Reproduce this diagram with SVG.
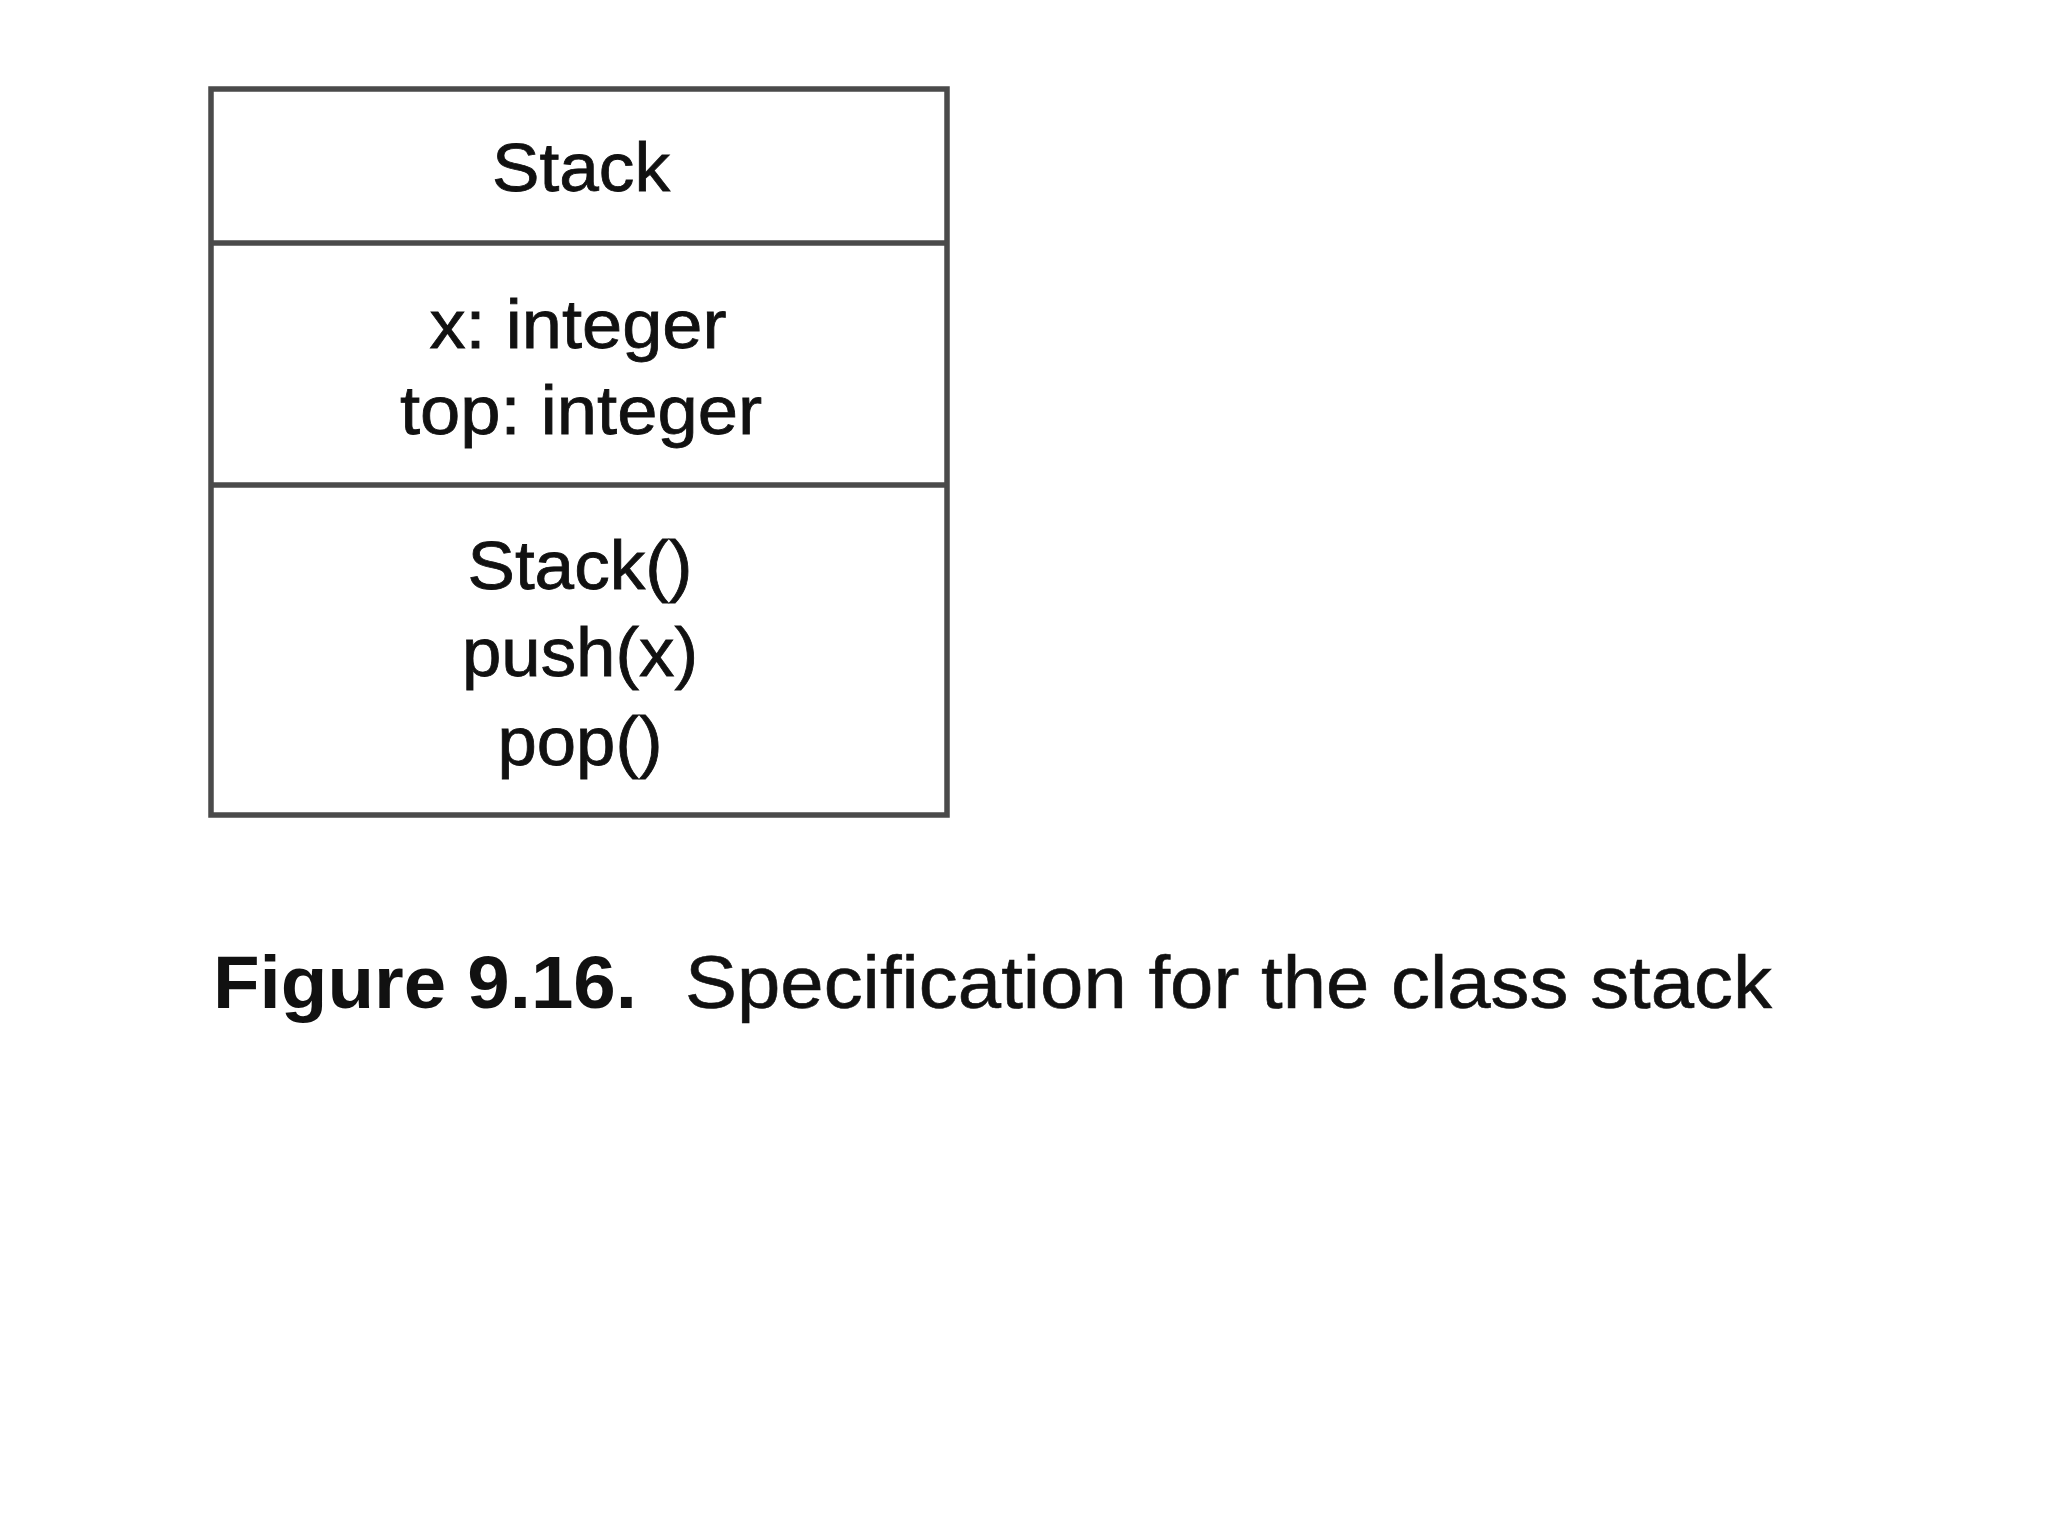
<svg xmlns="http://www.w3.org/2000/svg" width="2048" height="1536" viewBox="0 0 2048 1536">
<style>
.box{fill:#ffffff;stroke:#4a4a4a;stroke-width:5.5}
.sep{stroke:#4a4a4a;stroke-width:5.5}
.t{font-family:"Liberation Sans",Arial,sans-serif;font-size:68px;fill:#111;stroke:#111;stroke-width:0.8;text-anchor:middle}
.cb{font-family:"Liberation Sans",Arial,sans-serif;font-size:74px;font-weight:bold;fill:#111}
.cr{font-family:"Liberation Sans",Arial,sans-serif;font-size:74px;fill:#111;stroke:#111;stroke-width:0.6}
</style>
<rect x="0" y="0" width="2048" height="1536" fill="#ffffff"/>
<g id="class-stack">
<rect class="box" x="211" y="89" width="736" height="726"/>
<line class="sep" x1="211" y1="243" x2="947" y2="243"/>
<line class="sep" x1="211" y1="485" x2="947" y2="485"/>
<text class="t" x="581" y="191" textLength="178" lengthAdjust="spacingAndGlyphs">Stack</text>
<text class="t" x="578" y="348" textLength="297" lengthAdjust="spacingAndGlyphs">x: integer</text>
<text class="t" x="581" y="434" textLength="362" lengthAdjust="spacingAndGlyphs">top: integer</text>
<text class="t" x="580" y="589" textLength="225" lengthAdjust="spacingAndGlyphs">Stack()</text>
<text class="t" x="580" y="676" textLength="236" lengthAdjust="spacingAndGlyphs">push(x)</text>
<text class="t" x="580" y="765" textLength="165" lengthAdjust="spacingAndGlyphs">pop()</text>
</g>
<g id="caption">
<text class="cb" x="213" y="1008" textLength="424" lengthAdjust="spacingAndGlyphs">Figure 9.16.</text>
<text class="cr" x="685" y="1008" textLength="1087" lengthAdjust="spacingAndGlyphs">Specification for the class stack</text>
</g>
</svg>
